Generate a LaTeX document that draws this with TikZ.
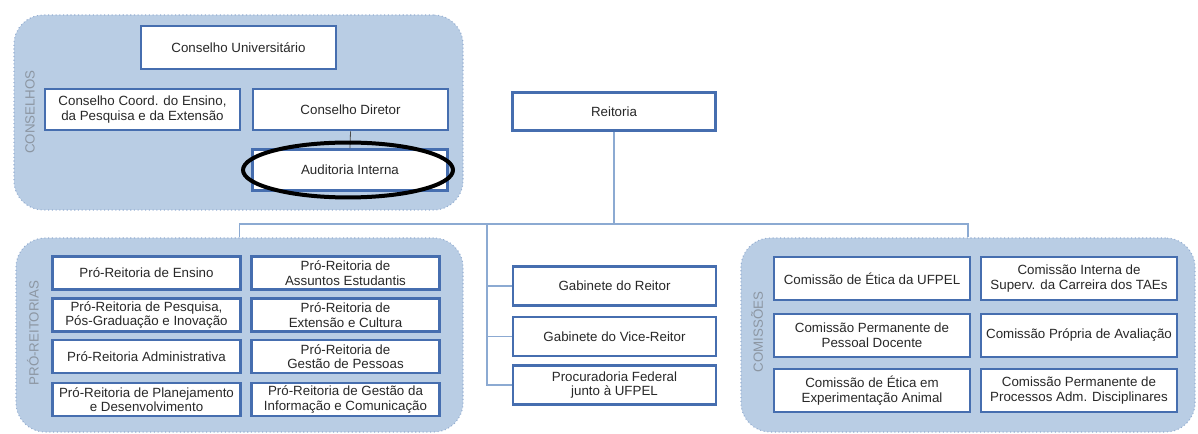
\documentclass[tikz,border=0pt]{standalone}
\usepackage{fontspec}
\setmainfont{Liberation Sans}
\definecolor{grpfill}{RGB}{185,205,228}
\definecolor{grpline}{RGB}{150,175,210}
\definecolor{boxline}{RGB}{70,110,175}
\definecolor{linkline}{RGB}{140,170,210}
\definecolor{lblgray}{RGB}{140,150,162}
\definecolor{txtgray}{RGB}{40,40,40}
\tikzset{
  org_grp/.style = {draw=grpline, dotted, line width=0.8pt, fill=grpfill,
    rounded corners=22pt, minimum height=145.5pt},
  org_lbl/.style = {rotate=90, text=lblgray, inner sep=0pt,
    font=\fontsize{10}{11}\selectfont},
  org_box/.style = {draw=boxline, fill=white, line width=1.8pt, align=center,
    inner sep=1pt, text=txtgray, font=\fontsize{10}{11}\selectfont},
  box_cons/.style = {org_box, minimum width=146pt, minimum height=31pt},
  box_mid/.style = {org_box, minimum width=152pt, minimum height=29pt},
  box_pro/.style = {org_box, minimum width=141pt, minimum height=25pt},
  box_com/.style = {org_box, minimum width=147pt, minimum height=32pt},
  link/.style = {draw=linkline, line width=0.8pt}
}
\begin{document}
\begin{tikzpicture}[x=0.75pt, y=-0.75pt]
  \useasboundingbox (0,0) rectangle (1198,434);
  \node [org_grp, minimum width=336.75pt, minimum height=146.25pt] (g_cons) at (238.5,112.5) {};
  \node [org_grp, minimum width=335.25pt] (g_pro) at (239.5,335) {};
  \node [org_grp, minimum width=340.5pt] (g_com) at (968,335) {};
  \node [org_lbl] (l_cons) at (30,112) {CONSELHOS};
  \node [org_lbl] (l_pro) at (33,333) {PRÓ-REITORIAS};
  \node [org_lbl] (l_com) at (757,332) {COMISSÕES};

  \node [box_cons, minimum height=32pt] (cons_uni) at (238.5,47.5) {Conselho Universitário};
  \node [box_cons] (cons_coord) at (142.5,109.5) {Conselho Coord. do Ensino,\\da Pesquisa e da Extensão};
  \node [box_cons] (cons_dir) at (350.5,109.5) {Conselho Diretor};
  \node [box_cons] (aud_int) at (350,170) {Auditoria Interna};
  \draw [black!70, line width=0.6pt] (cons_dir.south) -- (aud_int.north);
  \draw [black, line width=3pt] (348,170) ellipse [x radius=78.75pt, y radius=20.6pt];

  \node [box_mid, minimum height=28.5pt] (reit) at (614,111.5) {Reitoria};
  \node [box_mid] (gab_r) at (614.5,286) {Gabinete do Reitor};
  \node [box_mid] (gab_vr) at (614.5,336.5) {Gabinete do Vice-Reitor};
  \node [box_mid] (proc) at (614.5,385) {Procuradoria Federal\\junto à UFPEL};

  \node [box_pro] (pr_ens) at (146.5,273) {Pró-Reitoria de Ensino};
  \node [box_pro] (pr_pesq) at (146.5,315) {Pró-Reitoria de Pesquisa,\\Pós-Graduação e Inovação};
  \node [box_pro] (pr_adm) at (146.5,356.5) {Pró-Reitoria Administrativa};
  \node [box_pro] (pr_plan) at (146.5,399.5) {Pró-Reitoria de Planejamento\\e Desenvolvimento};
  \node [box_pro] (pr_ae) at (345.5,273) {Pró-Reitoria de\\Assuntos Estudantis};
  \node [box_pro] (pr_ext) at (345.5,315) {Pró-Reitoria de\\Extensão e Cultura};
  \node [box_pro] (pr_gp) at (345.5,356.5) {Pró-Reitoria de\\Gestão de Pessoas};
  \node [box_pro] (pr_gic) at (345.5,399.5) {Pró-Reitoria de Gestão da\\Informação e Comunicação};

  \node [box_com] (com_etica) at (872,278.5) {Comissão de Ética da UFPEL};
  \node [box_com] (com_ppd) at (872,335.5) {Comissão Permanente de\\Pessoal Docente};
  \node [box_com] (com_ean) at (872,390.5) {Comissão de Ética em\\Experimentação Animal};
  \node [box_com] (com_tae) at (1079,278.5) {Comissão Interna de\\Superv. da Carreira dos TAEs};
  \node [box_com] (com_cpa) at (1079,335.5) {Comissão Própria de Avaliação};
  \node [box_com] (com_pad) at (1079,390.5) {Comissão Permanente de\\Processos Adm. Disciplinares};

  \coordinate (jn) at (614,224);
  \coordinate (jn_mid) at (487,224);
  \draw [link] (reit.south) -- (jn);
  \draw [link] (g_pro.north) |- (jn) -| (g_com.north);
  \draw [link] (jn_mid) |- (proc.west);
  \draw [link] (gab_r.west) -- (gab_r.west -| jn_mid);
  \draw [link] (gab_vr.west) -- (gab_vr.west -| jn_mid);
\end{tikzpicture}
\end{document}
